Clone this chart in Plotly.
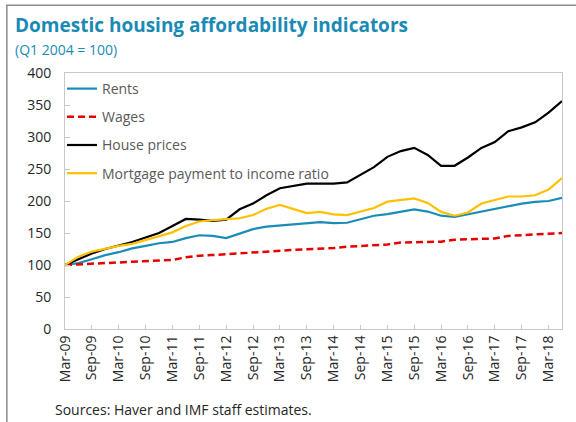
import plotly.graph_objects as go

months = ["Mar", "Jun", "Sep", "Dec"]
quarters = []
for yr in range(9, 19):
    for m in months:
        quarters.append(f"{m}-{yr:02d}")
quarters = quarters[:38]  # Mar-09 .. Jun-18

tick_labels = [q for i, q in enumerate(quarters) if i % 2 == 0 and i <= 36]

rents = [100, 103, 109, 115.5, 120, 126, 130, 134, 136, 142, 146.5, 145.5, 142, 149, 156, 160,
         162, 164, 166, 167, 165.5, 166, 171.5, 177, 179.5, 183.5, 187, 183.5, 177, 175, 179,
         183, 187, 192, 196, 198.5, 200, 205]
wages = [100, 101, 101, 102, 103, 104, 105, 106, 108, 112, 114.5, 115.5, 117, 118.5, 119.5, 121,
         122, 123.5, 124.5, 125, 126.5, 128.5, 130, 131.5, 132, 135, 135.5, 136, 136.5, 139.5,
         140.5, 141, 141.5, 145.5, 146.5, 147, 148, 150]
house_prices = [100, 109, 118, 125, 130, 136, 143, 150, 161, 172, 171, 169, 171, 187, 196, 209,
                220, 223, 227, 227, 227, 229, 241, 253, 269, 278, 283, 272, 255, 255, 268, 283,
                292, 309, 315, 323, 338, 356]
mortgage = [100, 113, 121, 126, 130, 133, 139, 144.5, 151, 161, 168, 170, 172, 173, 178, 188,
            194, 187, 181, 183, 179, 178, 183, 189, 199, 202, 204, 197, 183, 177, 182, 196,
            201, 207, 207, 209, 218, 236]

series = [
    ("Rents", rents, dict(color="#1a8cb8", width=2.2)),
    ("Wages", wages, dict(color="#e60000", width=2.5, dash="7px,4px")),
    ("House prices", house_prices, dict(color="#000000", width=2.2)),
    ("Mortgage payment to income ratio", mortgage, dict(color="#ffc000", width=2.2)),
]

fig = go.Figure()
for name, vals, line in series:
    fig.add_trace(go.Scatter(x=quarters, y=vals, mode="lines", name=name, line=line,
                             legendgroup=name))

FONT = "Open Sans"
TEAL = "#1a8ab5"

fig.update_layout(
    width=576, height=422,
    margin=dict(l=65, r=14, t=73, b=93),
    paper_bgcolor="white", plot_bgcolor="white",
    font=dict(family=FONT, size=13, color="#262626"),
    showlegend=True,
    legend=dict(x=-0.006, y=1.0, xanchor="left", yanchor="top",
                bgcolor="rgba(0,0,0,0)", traceorder="grouped", tracegroupgap=7,
                font=dict(family=FONT, size=14, color="#595959"), itemwidth=30),
    xaxis=dict(type="category", range=[0, 37], tickmode="array", tickvals=tick_labels,
               ticktext=tick_labels, tickangle=-90, ticks="inside", ticklen=4,
               tickcolor="#c8c8c8", showline=True, linecolor="#c8c8c8", mirror=True,
               showgrid=False, zeroline=False, tickfont=dict(size=14, color="#262626")),
    yaxis=dict(range=[0, 400], dtick=50, ticks="inside", ticklen=5, tickcolor="#c8c8c8",
               showline=True, linecolor="#c8c8c8", mirror=True, showgrid=False,
               zeroline=False, ticklabelstandoff=10,
               tickfont=dict(size=14, color="#262626")),
)

# outer frame (top and left edges visible)
fig.add_shape(type="rect", xref="paper", yref="paper", x0=-0.117, y0=-0.45, x1=1.2, y1=1.265,
              line=dict(color="#8a8a8a", width=1.5), fillcolor="rgba(0,0,0,0)", layer="above")

fig.add_annotation(text="<b>Domestic housing affordability indicators</b>", xref="paper",
                   yref="paper", x=-0.105, y=1.245, xanchor="left", yanchor="top",
                   showarrow=False, font=dict(family=FONT, size=19, color=TEAL))
fig.add_annotation(text="(Q1 2004 = 100)", xref="paper", yref="paper", x=-0.105, y=1.135,
                   xanchor="left", yanchor="top", showarrow=False,
                   font=dict(family=FONT, size=14, color=TEAL))
fig.add_annotation(text="Sources: Haver and IMF staff estimates.", xref="paper", yref="paper",
                   x=-0.025, y=-0.27, xanchor="left", yanchor="top", showarrow=False,
                   font=dict(family=FONT, size=14, color="#262626"))

fig.write_html("out.html", config={"displayModeBar": False},
               post_script="document.body.style.margin='0';document.body.style.overflow='hidden';")
